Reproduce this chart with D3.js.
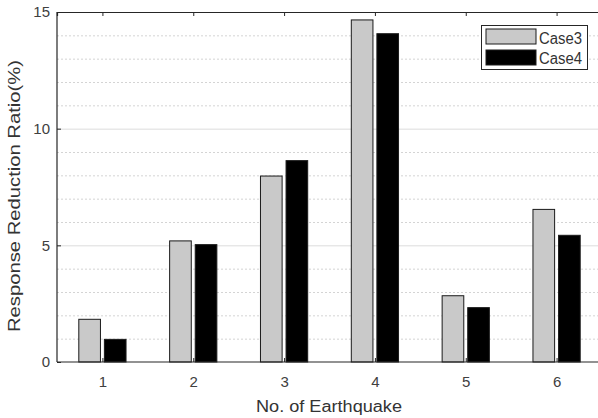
<!DOCTYPE html>
<html>
<head>
<meta charset="UTF-8">
<title>Response Reduction Ratio</title>
<script src="https://cdn.jsdelivr.net/npm/d3@7"></script>
<style>
  body { margin: 0; background: #fff; }
  text { font-family: "Liberation Sans", Arial, sans-serif; }
</style>
</head>
<body>
<div id="chart"></div>
<script>
// data
const earthquakes = [1, 2, 3, 4, 5, 6];
const seriesNames = ["Case3", "Case4"];
const case3 = [1.83, 5.19, 7.97, 14.66, 2.84, 6.54];
const case4 = [0.97, 5.03, 8.63, 14.07, 2.33, 5.43];
const yTicks = [0, 5, 10, 15];

const W = 598, H = 418;
const svg = d3.select("#chart").append("svg")
    .attr("width", W).attr("height", H);

// plot box (right edge runs a little past the window, as in the original)
const plotLeft = 57, plotRight = 602, plotTop = 12, plotBottom = 362;

const x = d3.scaleLinear().domain([0.5, 6.5]).range([plotLeft, plotRight]);
const y = d3.scaleLinear().domain([0, 15]).range([plotBottom, plotTop]);

// two bars per earthquake, offsets in x units
const inner = d3.scaleBand().domain(seriesNames).range([-0.26, 0.26]).paddingInner(0.154);
const colors = { Case3: "#c9c9c9", Case4: "#000000" };
const values = { Case3: case3, Case4: case4 };

// grid: dotted minor lines every 1, solid light major lines every 5
const minor = d3.range(1, 15).filter(v => v % 5 !== 0);
svg.append("g").selectAll("line").data(minor).join("line")
    .attr("x1", plotLeft).attr("x2", plotRight)
    .attr("y1", d => y(d) + 0.5).attr("y2", d => y(d) + 0.5)
    .attr("stroke", "#d4d4d4").attr("stroke-width", 1)
    .attr("stroke-dasharray", "2,2");

svg.append("g").selectAll("line").data([5, 10]).join("line")
    .attr("x1", plotLeft).attr("x2", plotRight)
    .attr("y1", d => y(d) + 0.5).attr("y2", d => y(d) + 0.5)
    .attr("stroke", "#dcdcdc").attr("stroke-width", 1);

// bars
seriesNames.forEach(name => {
    svg.append("g").selectAll("rect").data(earthquakes).join("rect")
        .attr("x", d => x(d + inner(name)))
        .attr("width", x(inner.bandwidth()) - x(0))
        .attr("y", (d, i) => y(values[name][i]))
        .attr("height", (d, i) => y(0) - y(values[name][i]))
        .attr("fill", colors[name])
        .attr("stroke", "#1a1a1a")
        .attr("stroke-width", 1);
});

// axes (MATLAB style box with inward ticks)
const axisColor = "#262626";
const tickLen = 4;

const xAxis = svg.append("g").attr("transform", `translate(0,${plotBottom})`)
    .call(d3.axisBottom(x).tickValues(earthquakes).tickSize(-tickLen).tickPadding(14).tickFormat(d3.format("d")));
const xTop = svg.append("g").attr("transform", `translate(0,${plotTop})`)
    .call(d3.axisTop(x).tickValues(earthquakes).tickSize(-tickLen).tickFormat(""));
const yAxis = svg.append("g").attr("transform", `translate(${plotLeft},0)`)
    .call(d3.axisLeft(y).tickValues(yTicks).tickSize(-tickLen).tickPadding(7).tickFormat(d3.format("d")));
const yRight = svg.append("g").attr("transform", `translate(${plotRight},0)`)
    .call(d3.axisRight(y).tickValues(yTicks).tickSize(-tickLen).tickFormat(""));

[xAxis, xTop, yAxis, yRight].forEach(g => {
    g.select(".domain").attr("stroke", axisColor).attr("stroke-width", 1.2);
    g.selectAll(".tick line").attr("stroke", axisColor);
    g.selectAll(".tick text").attr("fill", "#404040").style("font-size", "15px");
});
xAxis.selectAll(".domain").attr("d", `M${plotLeft},0H${plotRight}`);
yAxis.selectAll(".domain").attr("d", `M0,${plotBottom}V${plotTop}`);

// axis labels
svg.append("text")
    .attr("x", 329).attr("y", 411.5)
    .attr("text-anchor", "middle")
    .attr("fill", "#333")
    .style("font-size", "16px")
    .attr("textLength", 146)
    .attr("lengthAdjust", "spacingAndGlyphs")
    .text("No. of Earthquake");

svg.append("text")
    .attr("transform", "translate(20,196) rotate(-90)")
    .attr("text-anchor", "middle")
    .attr("fill", "#333")
    .style("font-size", "16px")
    .attr("textLength", 272)
    .attr("lengthAdjust", "spacingAndGlyphs")
    .text("Response Reduction Ratio(%)");

// legend
const legend = svg.append("g").attr("transform", "translate(481,25)");
legend.append("rect")
    .attr("x", 0.5).attr("y", 0.5).attr("width", 106).attr("height", 44)
    .attr("fill", "#fff").attr("stroke", axisColor).attr("stroke-width", 1);
seriesNames.forEach((name, i) => {
    legend.append("rect")
        .attr("x", 5).attr("y", 4 + i * 21).attr("width", 50).attr("height", 15)
        .attr("fill", colors[name]).attr("stroke", "#1a1a1a");
    legend.append("text")
        .attr("x", 58).attr("y", 19 + i * 20)
        .attr("fill", "#333")
        .style("font-size", "16px")
        .attr("textLength", 43)
        .attr("lengthAdjust", "spacingAndGlyphs")
        .text(name);
});
</script>
</body>
</html>
